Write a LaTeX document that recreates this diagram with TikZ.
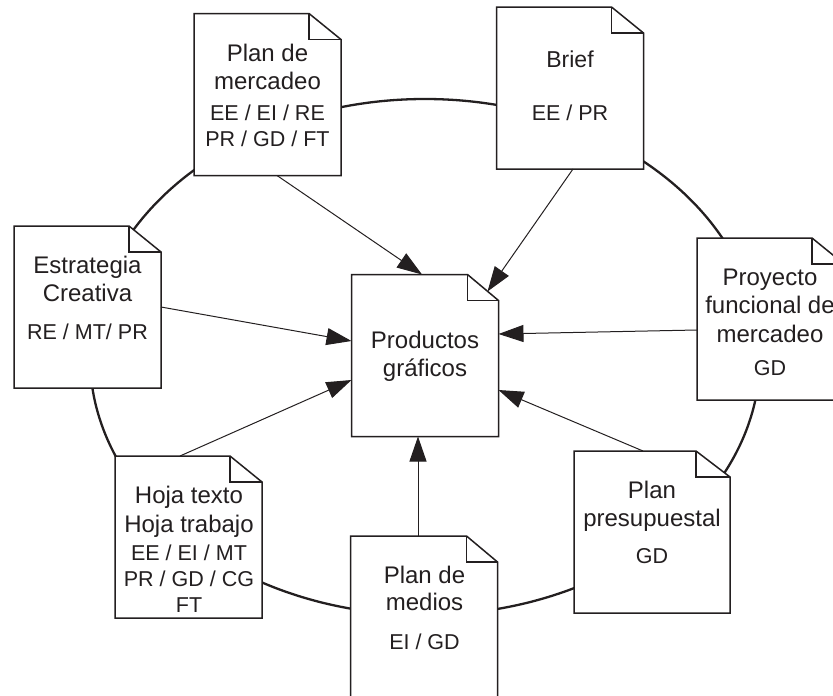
\documentclass[tikz,border=0pt]{standalone}
\usepackage{fontspec}
\setmainfont{Liberation Sans}
\usetikzlibrary{arrows.meta}
\definecolor{ink}{RGB}{35,31,32}
\newcommand\cdfont{\fontsize{21.5}{26}\selectfont}
\begin{document}
\begin{tikzpicture}[x=1pt,y=-1pt,
  docbox/.style={minimum width=147pt, minimum height=162pt, inner sep=0pt, outer sep=0pt},
  docline/.style={draw=ink, line width=1.5pt, fill=white, line join=miter},
  ttl/.style={anchor=base, text=ink, inner sep=0pt, font=\fontsize{24}{28}\selectfont},
  cod/.style={anchor=base, text=ink, inner sep=0pt, font=\cdfont},
  arr/.style={draw=ink, line width=1pt, -{Triangle[length=25pt,width=17pt]}},
  ring/.style={draw=ink, line width=2.3pt}]
\useasboundingbox (0,0) rectangle (833,696);
\draw[ring] (425,357) ellipse [x radius=335pt, y radius=258pt];
% document boxes
\node[docbox] (pm) at (267.5,94.5) {};
\node[docbox] (br) at (570,88) {};
\node[docbox] (es) at (87.5,307) {};
\node[docbox] (pf) at (770.5,319) {};
\node[docbox] (prod) at (425,355.5) {};
\node[docbox] (hj) at (188.5,537) {};
\node[docbox] (md) at (424,617) {};
\node[docbox, minimum width=156pt] (pp) at (652,532) {};
\foreach \n/\f in {pm/32,br/32,es/32,pf/32,prod/31,hj/32,md/31,pp/34} {
  \draw[docline] (\n.north west) -- ([xshift=-\f pt]\n.north east) -- ([yshift=-26pt]\n.north east) -- (\n.south east) -- (\n.south west) -- cycle;
  \draw[docline, fill=none] ([xshift=-\f pt]\n.north east) |- ([yshift=-26pt]\n.north east);
}
% texts
\node[ttl] (pm1) at (267.5,61) {Plan de};
\node[ttl] (pm2) at (267.5,89) {mercadeo};
\node[cod] (pm3) at (267.5,120) {EE / EI / RE};
\node[cod] (pm4) at (267.5,146) {PR / GD / FT};
\node[ttl, font=\fontsize{23}{28}\selectfont] (br1) at (570,67) {Brief};
\node[cod] (br2) at (570,120) {EE / PR};
\node[ttl] (es1) at (87.5,273) {Estrategia};
\node[ttl] (es2) at (87.5,301) {Creativa};
\node[cod] (es3) at (87.5,339) {RE / MT/ PR};
\node[ttl] (pf1) at (770,285) {Proyecto};
\node[ttl] (pf2) at (770,313) {funcional de};
\node[ttl] (pf3) at (770,342) {mercadeo};
\node[cod] (pf4) at (770,375) {GD};
\node[ttl] (pr1) at (425,348) {Productos};
\node[ttl] (pr2) at (425,376) {gráficos};
\node[ttl] (hj1) at (189,503) {Hoja texto};
\node[ttl] (hj2) at (189,532) {Hoja trabajo};
\node[cod] (hj3) at (189,560) {EE / EI / MT};
\node[cod] (hj4) at (189,586) {PR / GD / CG};
\node[cod] (hj5) at (189,612) {FT};
\node[ttl] (md1) at (424.5,583) {Plan de};
\node[ttl] (md2) at (424.5,610) {medios};
\node[cod] (md3) at (424.5,649) {EI / GD};
\node[ttl] (pp1) at (652,498) {Plan};
\node[ttl] (pp2) at (652,526) {presupuestal};
\node[cod] (pp3) at (652,563) {GD};
% connectors
\draw[arr] ([xshift=9.5pt]pm.south) -- ([xshift=-3pt]prod.north);
\draw[arr] ([xshift=3pt]br.south) -- ([xshift=-11pt,yshift=-17pt]prod.north east);
\draw[arr] (es.east) -- ([yshift=14.5pt]prod.west);
\draw[arr] ([yshift=-11pt]pf.west) -- ([yshift=21.5pt]prod.east);
\draw[arr] ([xshift=-8.5pt]hj.north) -- ([yshift=-24.5pt]prod.west);
\draw[arr] ([xshift=-6pt]md.north) -- ([xshift=-7pt]prod.south);
\draw[arr] ([xshift=-9pt]pp.north) -- ([yshift=-34.5pt]prod.east);
\end{tikzpicture}
\end{document}
